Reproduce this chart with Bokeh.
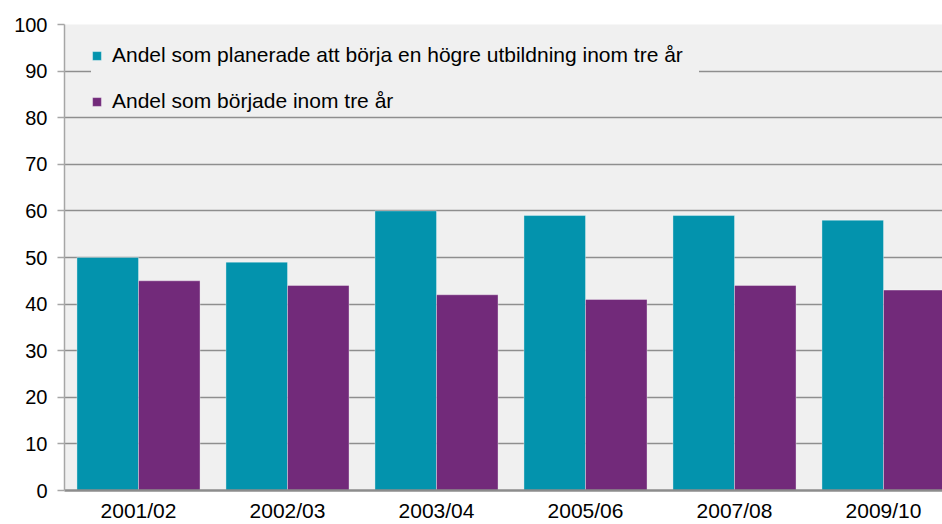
from bokeh.plotting import figure
from bokeh.models import Range1d, FixedTicker, ColumnDataSource, Legend, LegendItem
from bokeh.embed import file_html
from bokeh.resources import INLINE

categories = ["2001/02", "2002/03", "2003/04", "2005/06", "2007/08", "2009/10"]
planned = [50, 49, 60, 59, 59, 58]
started = [45, 44, 42, 41, 44, 43]
series_names = ["Andel som planerade att börja en högre utbildning inom tre år",
                "Andel som började inom tre år"]
y_ticks = list(range(0, 101, 10))

TEAL = "#0393ad"
PURPLE = "#722a7a"
BG = "#f0f0f0"
FONT = "Liberation Sans"

idx = list(range(len(categories)))
src = ColumnDataSource(dict(
    x1=[i - 0.2065 for i in idx], x2=[i + 0.2065 for i in idx],
    planned=planned, started=started))

p = figure(width=942, height=524, output_backend="svg", toolbar_location=None,
           x_range=Range1d(-0.4966, 5.396), y_range=Range1d(0, 100),
           min_border_left=64, min_border_top=24, min_border_right=0, min_border_bottom=32,
           background_fill_color=BG, border_fill_color="white", outline_line_color=None)

r1 = p.vbar(x="x1", top="planned", width=0.413, source=src, fill_color=TEAL,
            line_color="white", line_alpha=0.35, line_width=1)
r2 = p.vbar(x="x2", top="started", width=0.413, source=src, fill_color=PURPLE,
            line_color="white", line_alpha=0.35, line_width=1)

p.xgrid.grid_line_color = None
p.ygrid.grid_line_color = "#8e8e8e"
p.ygrid.grid_line_width = 1.5
p.ygrid.ticker = FixedTicker(ticks=y_ticks)

p.yaxis.ticker = FixedTicker(ticks=y_ticks)
p.yaxis.axis_line_color = "#a6a6a6"
p.yaxis.axis_line_width = 1.5
p.yaxis.major_tick_line_color = "#a6a6a6"
p.yaxis.major_tick_line_width = 1.5
p.yaxis.major_tick_out = 7
p.yaxis.major_tick_in = 0
p.yaxis.minor_tick_line_color = None
p.yaxis.major_label_standoff = 10
p.yaxis.major_label_text_font = FONT
p.yaxis.major_label_text_font_size = "20px"
p.yaxis.major_label_text_color = "black"

p.xaxis.ticker = FixedTicker(ticks=idx)
p.xaxis.major_label_overrides = {i: c for i, c in zip(idx, categories)}
p.xaxis.axis_line_color = "#8c8c8c"
p.xaxis.axis_line_width = 2.5
p.xaxis.major_tick_line_color = None
p.xaxis.minor_tick_line_color = None
p.xaxis.major_tick_out = 0
p.xaxis.major_tick_in = 0
p.xaxis.major_label_standoff = 8
p.xaxis.major_label_text_font = FONT
p.xaxis.major_label_text_font_size = "21px"
p.xaxis.major_label_text_color = "black"

legend = Legend(items=[LegendItem(label=series_names[0], renderers=[r1]),
                       LegendItem(label=series_names[1], renderers=[r2])],
                location=(27, 377), orientation="vertical",
                background_fill_color=BG, background_fill_alpha=1.0,
                border_line_color=None, padding=12, spacing=22,
                glyph_width=11, glyph_height=11, label_standoff=10, label_width=587,
                label_text_font=FONT, label_text_font_size="21px",
                label_text_color="black", margin=0)
p.add_layout(legend, "center")

open("out.html", "w").write(file_html(p, INLINE))
